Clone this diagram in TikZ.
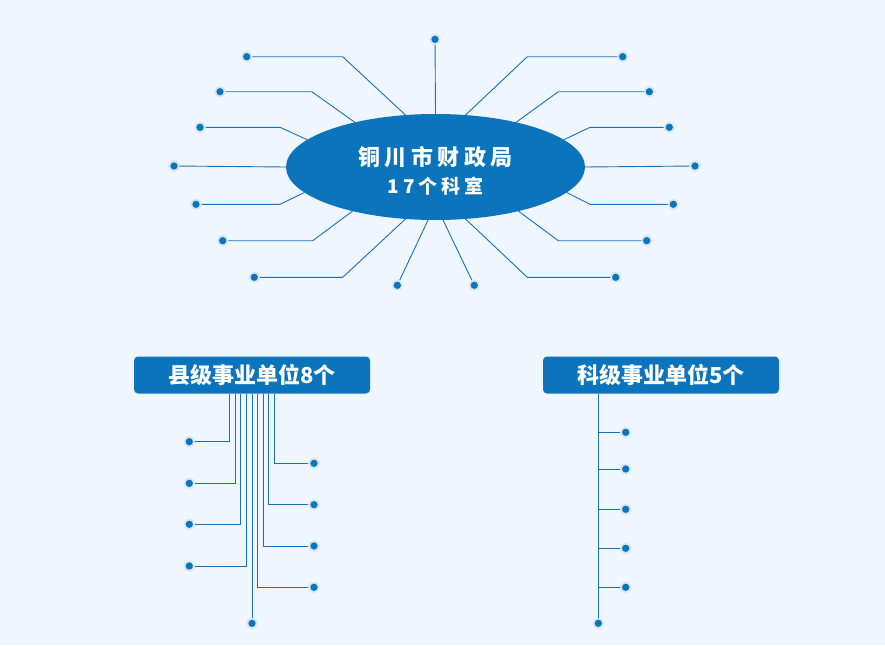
\documentclass[tikz,border=0pt]{standalone}
\usepackage{fontspec}
\usetikzlibrary{shapes,positioning}
\newfontfamily\cjk{Noto Sans CJK SC}
\newfontfamily\cjkwide[LetterSpace=20]{Noto Sans CJK SC}
\definecolor{paleblue}{RGB}{239,246,253}
\definecolor{deepblue}{RGB}{12,116,188}
\definecolor{lineblue}{RGB}{22,114,186}
\definecolor{haloblue}{RGB}{212,230,246}
\tikzset{bluespoke/.style={lineblue,line width=0.9pt}}
\tikzset{bluedot/.style={circle,fill=deepblue,draw=haloblue,line width=1.8pt,minimum size=9.5pt,inner sep=0pt}}
\tikzset{bluebox/.style={rectangle,rounded corners=4pt,fill=deepblue,text=white,minimum width=236pt,minimum height=37pt,font=\cjk\bfseries\fontsize{22}{22}\selectfont}}
\begin{document}
\begin{tikzpicture}[x=1pt,y=-1pt]
	\fill[paleblue] (0,0) rectangle (885,645);
	\node[ellipse,fill=deepblue,minimum width=299pt,minimum height=106pt,inner sep=0pt,outer sep=0pt,text=white,align=center,font=\cjkwide\bfseries] (boss) at (435.5,167) {\fontsize{22}{26}\selectfont\rule{0pt}{26pt}铜川市财政局\\[8pt]\fontsize{19}{24}\selectfont 17个科室};
	\node[bluedot] (top) at (435,39.3) {};
	\node[bluedot] (l1) at (246.7,56.7) {};
	\node[bluedot] (l2) at (220,91.7) {};
	\node[bluedot] (l3) at (200,127.3) {};
	\node[bluedot] (l4) at (174,166) {};
	\node[bluedot] (l5) at (196,204.3) {};
	\node[bluedot] (l6) at (222.7,240.7) {};
	\node[bluedot] (l7) at (254.3,277.3) {};
	\node[bluedot] (l8) at (397.3,285.3) {};
	\node[bluedot] (r1) at (622.7,56.7) {};
	\node[bluedot] (r2) at (649.3,91.7) {};
	\node[bluedot] (r3) at (669.3,127.3) {};
	\node[bluedot] (r4) at (695,166) {};
	\node[bluedot] (r5) at (673.3,204.3) {};
	\node[bluedot] (r6) at (646.7,240.7) {};
	\node[bluedot] (r7) at (615.7,277.3) {};
	\node[bluedot] (r8) at (474.3,285.3) {};
	\draw[bluespoke] (top) -- (boss.90);
	\draw[bluespoke] (l1) -- (342.7,56.7) -- (boss.120);
	\draw[bluespoke] (l2) -- (311.7,91.7) -- (boss.151);
	\draw[bluespoke] (l3) -- (280,127.3) -- (boss.168);
	\draw[bluespoke] (l4) -- (boss.180);
	\draw[bluespoke] (l5) -- (280,204.3) -- (boss.191);
	\draw[bluespoke] (l6) -- (312.7,240.7) -- (boss.208);
	\draw[bluespoke] (l7) -- (342.7,277.3) -- (boss.240);
	\draw[bluespoke] (l8) -- (boss.262);
	\draw[bluespoke] (r1) -- (527.3,56.7) -- (boss.60);
	\draw[bluespoke] (r2) -- (558.3,91.7) -- (boss.29);
	\draw[bluespoke] (r3) -- (590,127.3) -- (boss.12);
	\draw[bluespoke] (r4) -- (boss.0);
	\draw[bluespoke] (r5) -- (590,204.3) -- (boss.349);
	\draw[bluespoke] (r6) -- (558.3,240.7) -- (boss.332);
	\draw[bluespoke] (r7) -- (527.3,277.3) -- (boss.300);
	\draw[bluespoke] (r8) -- (boss.278);
	% lower boxes
	\node[bluebox] (county) at (252,375) {县级事业单位8个};
	\node[bluebox] (section) at (661,375) {科级事业单位5个};
	\node[bluedot] (c1) at (189.3,441.7) {};
	\node[bluedot] (c2) at (189.3,483.3) {};
	\node[bluedot] (c3) at (189.3,524.3) {};
	\node[bluedot] (c4) at (189.3,566) {};
	\node[bluedot] (c5) at (252,623.3) {};
	\node[bluedot] (c6) at (314,463.3) {};
	\node[bluedot] (c7) at (314,504.7) {};
	\node[bluedot] (c8) at (314,546) {};
	\node[bluedot] (c9) at (314,587.3) {};
	\draw[bluespoke] ([xshift=-22.5pt]county.south) |- (c1);
	\draw[bluespoke] ([xshift=-16.9pt]county.south) |- (c2);
	\draw[bluespoke] ([xshift=-11.3pt]county.south) |- (c3);
	\draw[bluespoke] ([xshift=-5.6pt]county.south) |- (c4);
	\draw[bluespoke] (county.south) -- (c5);
	\draw[bluespoke] ([xshift=22.5pt]county.south) |- (c6);
	\draw[bluespoke] ([xshift=16.9pt]county.south) |- (c7);
	\draw[bluespoke] ([xshift=11.3pt]county.south) |- (c8);
	\draw[bluespoke] ([xshift=5.6pt]county.south) |- (c9);
	\node[bluedot] (s1) at (625.7,432.3) {};
	\node[bluedot] (s2) at (625.7,469) {};
	\node[bluedot] (s3) at (625.7,509.3) {};
	\node[bluedot] (s4) at (625.7,548.3) {};
	\node[bluedot] (s5) at (625.7,587.3) {};
	\node[bluedot] (s6) at (598.3,623.3) {};
	\draw[bluespoke] ([xshift=-62.7pt]section.south) -- (s6);
	\draw[bluespoke] (s1 -| s6) -- (s1);
	\draw[bluespoke] (s2 -| s6) -- (s2);
	\draw[bluespoke] (s3 -| s6) -- (s3);
	\draw[bluespoke] (s4 -| s6) -- (s4);
	\draw[bluespoke] (s5 -| s6) -- (s5);
\end{tikzpicture}
\end{document}
